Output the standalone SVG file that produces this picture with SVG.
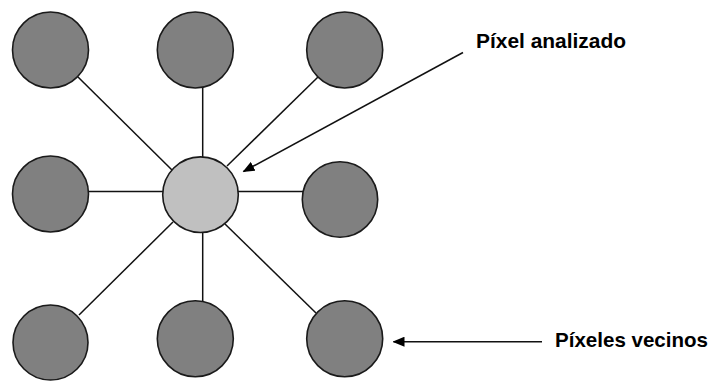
<svg xmlns="http://www.w3.org/2000/svg" width="712" height="381" viewBox="0 0 712 381">
  <style>
    .px { fill: #808080; stroke: #1a1a1a; stroke-width: 1.6; }
    .centre { fill: #c0c0c0; stroke: #1a1a1a; stroke-width: 1.6; }
    .link { stroke: #111; stroke-width: 1.5; fill: none; }
    .arrow { stroke: #111; stroke-width: 1.5; fill: none; marker-end: url(#head); }
    .label { font-family: "Liberation Sans", Arial, sans-serif; font-weight: bold; font-size: 20.5px; fill: #000; }
  </style>
  <defs>
    <marker id="head" viewBox="0 0 12 10" refX="11" refY="5" markerWidth="12" markerHeight="10" markerUnits="userSpaceOnUse" orient="auto">
      <path d="M0,0 L12,5 L0,10 Z" fill="#000"/>
    </marker>
  </defs>
  <rect width="712" height="381" fill="#fff"/>

  <!-- spokes from the neighbours to the centre pixel -->
  <g id="connectors">
    <line class="link" x1="78" y1="77" x2="172" y2="170"/>
    <line class="link" x1="202.7" y1="88" x2="202.7" y2="157"/>
    <line class="link" x1="318" y1="77" x2="227" y2="166"/>
    <line class="link" x1="88.5" y1="191.5" x2="163" y2="191.5"/>
    <line class="link" x1="238" y1="191.5" x2="303" y2="191.5"/>
    <line class="link" x1="173" y1="222" x2="79" y2="315"/>
    <line class="link" x1="202.7" y1="232" x2="202.7" y2="302"/>
    <line class="link" x1="225" y1="224" x2="316" y2="313"/>
    <line class="arrow" x1="463" y1="52.5" x2="243.5" y2="171.5"/>
    <line class="arrow" x1="542" y1="341.7" x2="393.5" y2="341.7"/>
  </g>

  <g id="n-top-left"><circle class="px" cx="50.5" cy="50" r="38"/></g>
  <g id="n-top-mid"><circle class="px" cx="195.3" cy="50" r="38"/></g>
  <g id="n-top-right"><circle class="px" cx="344.7" cy="50" r="38"/></g>
  <g id="n-mid-left"><circle class="px" cx="50.5" cy="194" r="38"/></g>
  <g id="n-centre"><circle class="centre" cx="200.5" cy="194.7" r="37.8"/></g>
  <g id="n-mid-right"><circle class="px" cx="340" cy="199.5" r="37.7"/></g>
  <g id="n-bot-left"><circle class="px" cx="50.5" cy="342.5" r="37.5"/></g>
  <g id="n-bot-mid"><circle class="px" cx="195.3" cy="338.7" r="38"/></g>
  <g id="n-bot-right"><circle class="px" cx="344.7" cy="338.7" r="38"/></g>

  <g id="lbl-analizado"><text class="label" x="476" y="48.3" textLength="150" lengthAdjust="spacingAndGlyphs">Píxel analizado</text></g>
  <g id="lbl-vecinos"><text class="label" x="555" y="346.7" textLength="153" lengthAdjust="spacingAndGlyphs">Píxeles vecinos</text></g>
</svg>
